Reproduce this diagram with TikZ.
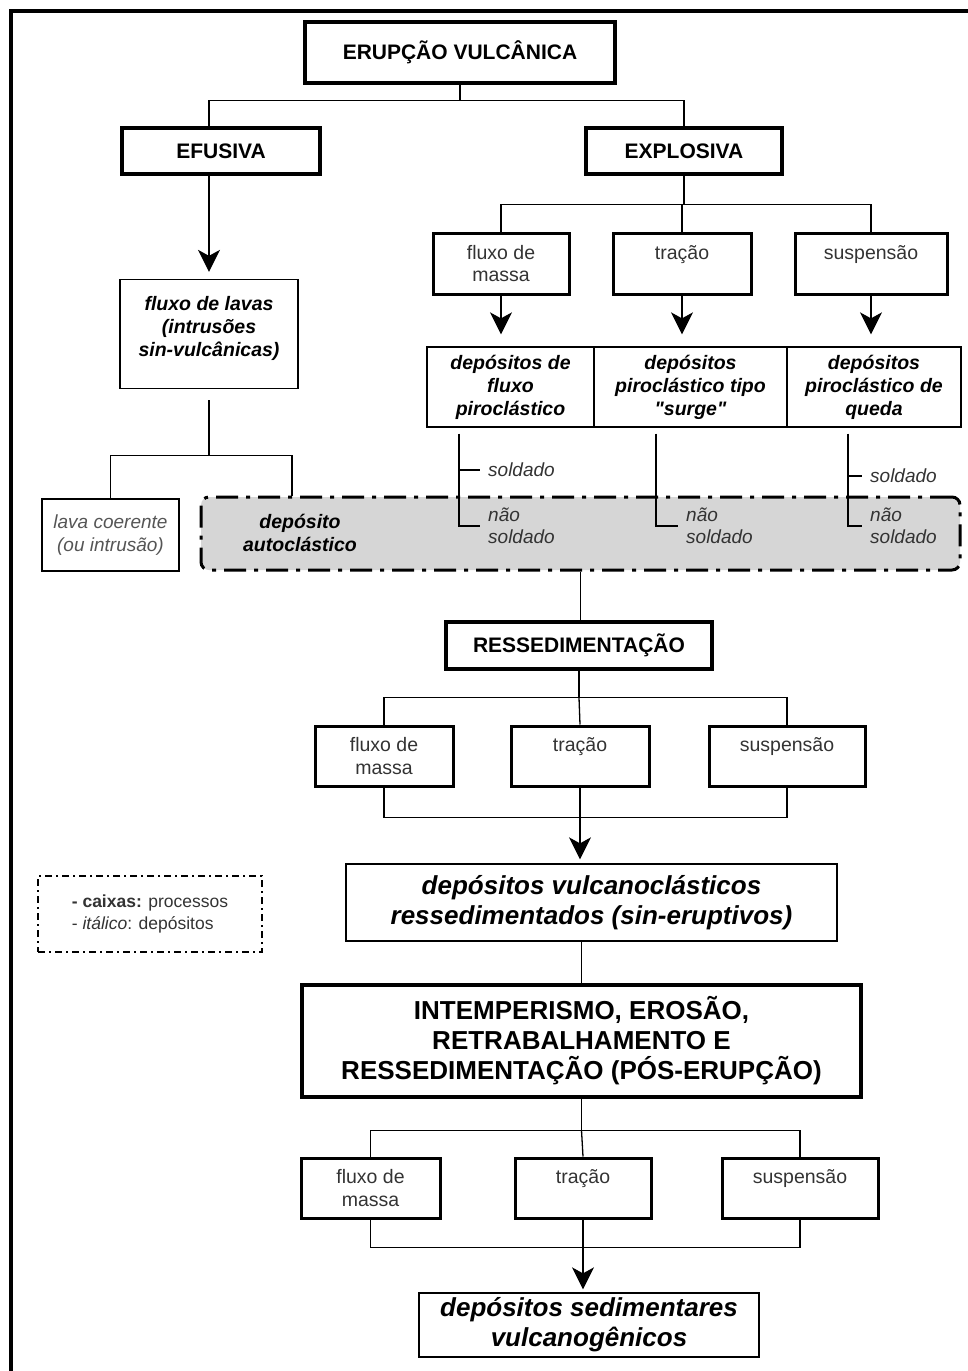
\documentclass[tikz,border=0pt]{standalone}
\usepackage{fontspec}
\setmainfont{Liberation Sans}[Ligatures = TeXOff]
\usepackage{tikz}
\usepackage{xcolor}
\usetikzlibrary{arrows.meta}
\definecolor{textgray}{HTML}{333333}
\definecolor{lightgray}{HTML}{555555}
\definecolor{autofill}{HTML}{d6d6d6}

\tikzset{
  bigbox/.style = {draw, line width = 3.5pt, inner sep = 0pt, font = \bfseries\fontsize{21}{25}\selectfont},
  hugebox/.style = {draw, line width = 4.5pt, inner sep = 0pt, align = center, font = \bfseries\fontsize{26}{30}\selectfont},
  procbox/.style = {draw, line width = 3pt, inner sep = 0pt, align = center, text = textgray, font = \fontsize{19.5}{22.5}\selectfont},
  depbox/.style = {draw, line width = 1.3pt, inner sep = 0pt, align = center, font = \bfseries\itshape\fontsize{19.5}{23}\selectfont},
  tag/.style = {inner xsep = 8pt, align = left, text = textgray, font = \itshape\fontsize{19}{22}\selectfont},
  link/.style = {line width = 1.3pt},
  arrow/.style = {link, -{Stealth[length = 22pt, width = 22pt, inset = 6pt]}},
}

\begin{document}
\begin{tikzpicture}[x = 1pt, y = -1pt]
        \useasboundingbox (0, 0) rectangle (968, 1371);
        \draw [line width = 4pt] (11, 1371) -- (11, 11) -- (968, 11);

        % Nodes
        \node [bigbox, minimum width = 310pt, minimum height = 61pt] (erupcao) at (460, 52.5) {ERUPÇÃO VULCÂNICA};
        \node [bigbox, minimum width = 198pt, minimum height = 46pt] (efusiva) at (221, 151) {EFUSIVA};
        \node [bigbox, minimum width = 196pt, minimum height = 46pt] (explosiva) at (684, 151) {EXPLOSIVA};

        \node [depbox, minimum width = 178pt, minimum height = 109pt] (lavas) at (209, 334) {fluxo de lavas\\(intrusões\\sin-vulcânicas)\\[-8pt]~};
        \node [depbox, minimum width = 137pt, minimum height = 72pt, font = \itshape\fontsize{19}{23}\selectfont, text = lightgray] (lavacoer) at (110.5, 535) {lava coerente\\(ou intrusão)};
        \node [draw, fill = autofill, line width = 3pt, rounded corners = 8pt, dash pattern = on 22pt off 8pt on 4pt off 8pt, minimum width = 759pt, minimum height = 73pt] (autobox) at (580.5, 533.5) {};
        \node [align = center, font = \bfseries\itshape\fontsize{19.5}{23}\selectfont] (autotxt) at (300, 533) {depósito\\autoclástico};

        \node [procbox, minimum width = 136pt, minimum height = 61pt] (pfm) at (501, 263.5) {fluxo de\\massa};
        \node [procbox, minimum width = 138pt, minimum height = 61pt] (ptr) at (682, 263.5) {tração\\~};
        \node [procbox, minimum width = 152pt, minimum height = 61pt] (psu) at (871, 263.5) {suspensão\\~};

        \node [depbox, minimum width = 167pt, minimum height = 80pt] (dfluxo) at (510.5, 387) {depósitos de\\fluxo\\piroclástico};
        \node [depbox, minimum width = 193pt, minimum height = 80pt] (dsurge) at (690.5, 387) {depósitos\\piroclástico tipo\\"surge"};
        \node [depbox, minimum width = 174pt, minimum height = 80pt] (dqueda) at (874, 387) {depósitos\\piroclástico de\\queda};

        \node [tag, anchor = west] (sd1) at (480, 470) {soldado};
        \node [tag, anchor = west] (ns1) at (480, 526) {não\\soldado};
        \node [tag, anchor = west] (ns2) at (678, 526) {não\\soldado};
        \node [tag, anchor = west] (sd3) at (862, 476) {soldado};
        \node [tag, anchor = west] (ns3) at (862, 526) {não\\soldado};

        \node [bigbox, minimum width = 266pt, minimum height = 47pt] (ressed) at (579, 645.5) {RESSEDIMENTAÇÃO};
        \node [procbox, minimum width = 138pt, minimum height = 60pt] (rfm) at (384, 756) {fluxo de\\massa};
        \node [procbox, minimum width = 138pt, minimum height = 60pt] (rtr) at (580, 756) {tração\\~};
        \node [procbox, minimum width = 156pt, minimum height = 60pt] (rsu) at (787, 756) {suspensão\\~};

        \node [depbox, minimum width = 491pt, minimum height = 77pt, font = \bfseries\itshape\fontsize{26}{30}\selectfont] (vulcano) at (591.5, 902.5) {depósitos vulcanoclásticos\\ressedimentados (sin-eruptivos)};
        \node [draw, line width = 1.5pt, dash pattern = on 7pt off 4pt on 2pt off 4pt, minimum width = 224pt, minimum height = 76pt, align = left, text = textgray, font = \fontsize{17.5}{22}\selectfont] (legenda) at (150, 914) {\textbf{- caixas:} processos\\- \textit{itálico}: depósitos};

        \node [hugebox, minimum width = 559pt, minimum height = 112pt] (intemp) at (581.5, 1041) {INTEMPERISMO, EROSÃO,\\RETRABALHAMENTO E\\RESSEDIMENTAÇÃO (PÓS-ERUPÇÃO)};
        \node [procbox, minimum width = 139pt, minimum height = 60pt] (ifm) at (370.5, 1188) {fluxo de\\massa};
        \node [procbox, minimum width = 136pt, minimum height = 60pt] (itr) at (583, 1188) {tração\\~};
        \node [procbox, minimum width = 156pt, minimum height = 60pt] (isu) at (800, 1188) {suspensão\\~};

        \node [depbox, minimum width = 340pt, minimum height = 64pt, font = \bfseries\itshape\fontsize{26}{30}\selectfont] (sedim) at (589, 1325) {depósitos sedimentares\\vulcanogênicos};

        % Draw the links
        \draw [link] (erupcao.south) -- ++(0, 16) coordinate (s1);
        \draw [link] (s1) -| (efusiva.north -| lavas.north);
        \draw [link] (s1) -| (explosiva.north);
        \draw [arrow, shorten > = 7pt] (efusiva.south -| lavas.north) -- (lavas.north);

        \draw [link] ([yshift = -11pt]lavas.south) -- ++(0, 55) coordinate (s2);
        \draw [link] (s2) -| (lavacoer.north);
        \draw [link] (s2) -| ([xshift = -288.5pt]autobox.north);

        \draw [link] (explosiva.south) -- ++(0, 29) coordinate (s3);
        \draw [link] (s3) -| (pfm.north);
        \draw [link] (s3) -| (ptr.north);
        \draw [link] (s3) -| (psu.north);
        \draw [arrow, shorten > = 12pt] (pfm.south) -- (dfluxo.north -| pfm.south);
        \draw [arrow, shorten > = 12pt] (ptr.south) -- (dsurge.north -| ptr.south);
        \draw [arrow, shorten > = 12pt] (psu.south) -- (dqueda.north -| psu.south);

        \draw [link] ([xshift = -51.5pt, yshift = -6pt]dfluxo.south) coordinate (t1) |- (ns1.west);
        \draw [link] (t1 |- sd1.west) -- (sd1.west);
        \draw [link] ([xshift = -34.5pt, yshift = -6pt]dsurge.south) |- (ns2.west);
        \draw [link] ([xshift = -26pt, yshift = -6pt]dqueda.south) coordinate (t3) |- (ns3.west);
        \draw [link] (t3 |- sd3.west) -- (sd3.west);

        \draw [link] (autobox.south) -- (ressed.north -| autobox.south);
        \draw [link] (ressed.south) -- ++(0, 27) coordinate (s4);
        \draw [link] (s4) -| (rfm.north);
        \draw [link] (s4) -- (rtr.north);
        \draw [link] (s4) -| (rsu.north);
        \draw [link] (rfm.south) -- ++(0, 30) -| (rsu.south);
        \draw [arrow, shorten > = 4pt] (rtr.south) -- (vulcano.north -| rtr.south);

        \draw [link] (intemp.north |- vulcano.south) -- (intemp.north);
        \draw [link] (intemp.south) -- ++(0, 31) coordinate (s5);
        \draw [link] (s5) -| (ifm.north);
        \draw [link] (s5) -- (itr.north);
        \draw [link] (s5) -| (isu.north);
        \draw [link] (ifm.south) -- ++(0, 28) -| (isu.south);
        \draw [arrow, shorten > = 3pt] (itr.south) -- (sedim.north -| itr.south);

    \end{tikzpicture}
\end{document}
